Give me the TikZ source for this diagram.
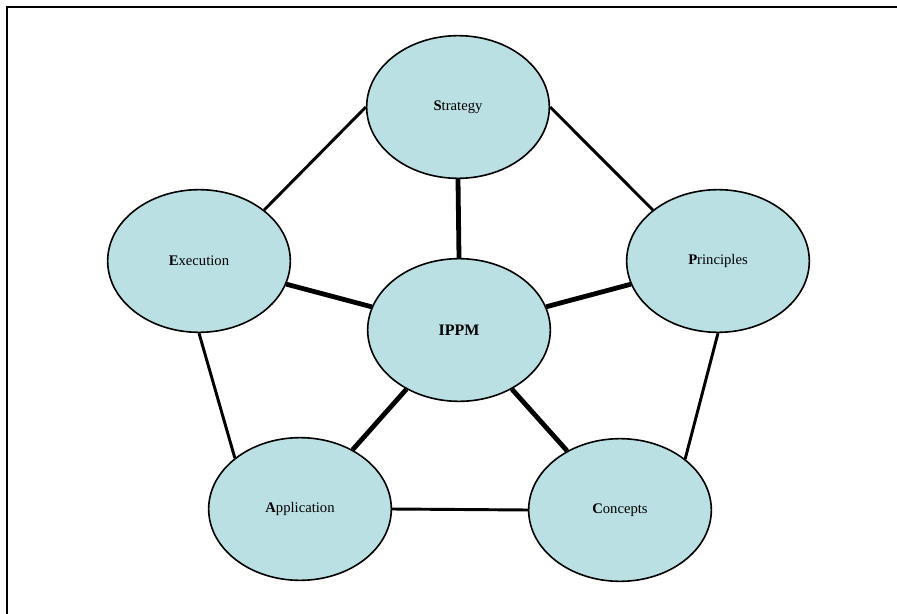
\documentclass[tikz,border=0pt]{standalone}
\usepackage{fontspec}
\setmainfont{Liberation Serif}
\usetikzlibrary{shapes.geometric}
\definecolor{bubblefill}{RGB}{186,224,228}

\begin{document}
\begin{tikzpicture}[x=0.75pt,y=-0.75pt,
	bubble/.style={ellipse, draw, line width=1.2pt, fill=bubblefill,
		minimum width=137pt, minimum height=107pt, inner sep=0pt,
		font=\fontsize{11}{13}\selectfont},
	rim/.style={line width=2.2pt},
	spoke/.style={line width=3.6pt}]
	%%%%% START %%%%%
	
	\useasboundingbox (0,0) rectangle (897,614);
	\draw[line width=1.5pt] (7,614) -- (7,7) -- (897,7);
	
	\node[bubble] (strat) at (458,107) {\textbf{S}trategy};
	\node[bubble] (exec) at (199,261) {\textbf{E}xecution};
	\node[bubble] (princ) at (718,261) {\textbf{P}rinciples};
	\node[bubble, font=\fontsize{12}{14}\selectfont\bfseries] (ippm) at (459,330) {IPPM};
	\node[bubble] (appl) at (300,509) {\textbf{A}pplication};
	\node[bubble] (conc) at (620,510) {\textbf{C}oncepts};
	
	% outer ring
	\draw[rim] (strat.west) -- (exec.north east);
	\draw[rim] (strat.east) -- (princ.north west);
	\draw[rim] (exec.south) -- (appl.north west);
	\draw[rim] (princ.south) -- (conc.north east);
	\draw[rim] (appl.east) -- (conc.west);
	
	% spokes
	\draw[spoke] (ippm.north) -- (strat.south);
	\draw[spoke] (ippm) -- (exec);
	\draw[spoke] (ippm) -- (princ);
	\draw[spoke] (ippm) -- (appl);
	\draw[spoke] (ippm) -- (conc);
	
	%%%%% END %%%%%
\end{tikzpicture}
\end{document}
